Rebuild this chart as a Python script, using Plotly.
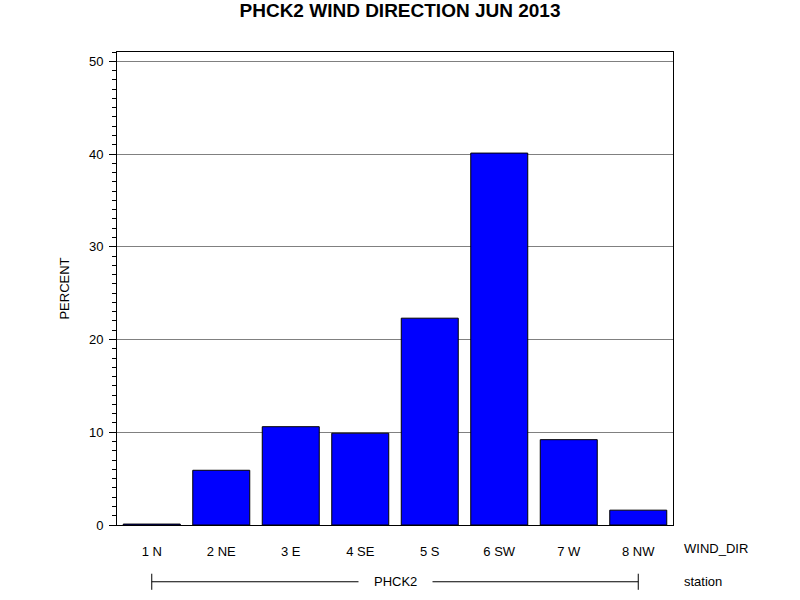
import plotly.graph_objects as go

wind_dir = ["1 N", "2 NE", "3 E", "4 SE", "5 S", "6 SW", "7 W", "8 NW"]
percent = [0.1, 5.9, 10.6, 9.9, 22.3, 40.1, 9.2, 1.6]
station = "PHCK2"
y_ticks = [0, 10, 20, 30, 40, 50]

FONT = "Liberation Sans, Arial, sans-serif"

fig = go.Figure()
fig.add_trace(go.Bar(
    x=wind_dir, y=percent,
    marker=dict(color="#0000FF", line=dict(color="black", width=1)),
))

fig.update_layout(
    width=800, height=600,
    paper_bgcolor="white", plot_bgcolor="white",
    margin=dict(l=117, r=127, t=52, b=75),
    bargap=0.18,
    showlegend=False,
    font=dict(family=FONT, size=13, color="black"),
    title=dict(text="<b>PHCK2 WIND DIRECTION JUN 2013</b>", x=0.5, xanchor="center",
               y=0.982, yanchor="middle", font=dict(size=19, family=FONT)),
    xaxis=dict(
        type="category", showgrid=False, showline=True, linecolor="black", linewidth=1,
        mirror=True, ticks="outside", ticklen=14, tickcolor="rgba(0,0,0,0)",
        tickfont=dict(size=13),
    ),
    yaxis=dict(
        range=[0, 51], tickvals=y_ticks, showgrid=True, gridcolor="#808080", gridwidth=1,
        showline=True, linecolor="black", linewidth=1, mirror=True,
        ticks="outside", ticklen=7, tickcolor="black", zeroline=False,
        minor=dict(dtick=1, ticks="outside", ticklen=4, tickcolor="black", showgrid=False),
        title=dict(text="PERCENT", font=dict(size=13), standoff=16),
        ticklabelstandoff=3,
        layer="above traces", tickfont=dict(size=13),
    ),
)

# axis labels for the two category levels
fig.add_annotation(text="WIND_DIR", xref="paper", yref="paper", x=1.017, y=-0.049,
                   xanchor="left", yanchor="middle", showarrow=False, font=dict(size=13))
fig.add_annotation(text="station", xref="paper", yref="paper", x=1.017, y=-0.12,
                   xanchor="left", yanchor="middle", showarrow=False, font=dict(size=13))

# station bracket line
fig.add_shape(type="line", xref="x", yref="paper", x0=wind_dir[0], x1=wind_dir[-1],
              y0=-0.12, y1=-0.12, line=dict(color="black", width=1))
fig.add_shape(type="line", xref="x", yref="paper", x0=wind_dir[0], x1=wind_dir[0],
              y0=-0.103, y1=-0.137, line=dict(color="black", width=1))
fig.add_shape(type="line", xref="x", yref="paper", x0=wind_dir[-1], x1=wind_dir[-1],
              y0=-0.103, y1=-0.137, line=dict(color="black", width=1))
fig.add_annotation(text=station, xref="paper", yref="paper", x=0.5, y=-0.12,
                   xanchor="center", yanchor="middle", showarrow=False,
                   bgcolor="white", borderpad=15, font=dict(size=13))

fig.write_html("out.html", config={"displayModeBar": False},
               post_script="document.body.style.margin='0';")
